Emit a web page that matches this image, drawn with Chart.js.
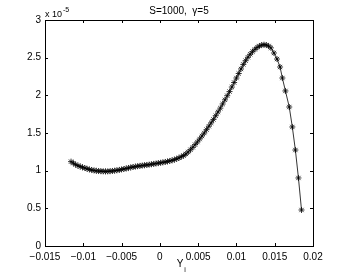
<!DOCTYPE html>
<html>
<head>
<meta charset="utf-8">
<script src="https://cdn.jsdelivr.net/npm/chart.js@4"></script>
<style>
  html, body { margin: 0; padding: 0; background: #fff; }
  #wrap { width: 346px; height: 277px; }
</style>
</head>
<body>
<div id="wrap"><canvas id="myChart" width="346" height="277"></canvas></div>
<script>
// values, y in units of 1e-5
var yiValues = [
  -0.0116, -0.0113, -0.0110, -0.0107, -0.0104, -0.0101, -0.0098, -0.0095, -0.0092, -0.0089,
  -0.0086, -0.0083, -0.0080, -0.0077, -0.0074, -0.0071, -0.0068, -0.0065, -0.0062, -0.0059,
  -0.0056, -0.0053, -0.0050, -0.0047, -0.0044, -0.0041, -0.0038, -0.0035, -0.0032, -0.0029,
  -0.0026, -0.0023, -0.0020, -0.0017, -0.0014, -0.0011, -0.0008, -0.0005, -0.0002, 0.0001,
  0.0004, 0.0007, 0.0010, 0.0013, 0.0016, 0.0019, 0.0022, 0.0025, 0.0028, 0.0031,
  0.0034, 0.0037, 0.0040, 0.0043, 0.0046, 0.0049, 0.0052, 0.0055, 0.0058, 0.0061,
  0.0064, 0.0067, 0.0070, 0.0073, 0.0076, 0.0079, 0.0082, 0.0085, 0.0088, 0.0091,
  0.0094, 0.0097, 0.0100, 0.0103, 0.0106, 0.0109, 0.0112, 0.0115, 0.0118, 0.0121,
  0.0124, 0.0127, 0.0130, 0.0133, 0.0136, 0.0139, 0.0142, 0.0145, 0.0149, 0.0153,
  0.0157, 0.0160, 0.0164, 0.0169, 0.0173, 0.0177, 0.0181, 0.0185
];
var curveValues = [
  1.120, 1.100, 1.080, 1.066, 1.055, 1.045, 1.035, 1.025, 1.016, 1.009,
  1.003, 0.998, 0.995, 0.993, 0.991, 0.990, 0.991, 0.993, 0.996, 1.000,
  1.005, 1.010, 1.016, 1.022, 1.029, 1.036, 1.043, 1.049, 1.054, 1.059,
  1.064, 1.068, 1.072, 1.076, 1.080, 1.085, 1.090, 1.095, 1.100, 1.105,
  1.110, 1.116, 1.122, 1.129, 1.137, 1.146, 1.157, 1.170, 1.185, 1.200,
  1.222, 1.248, 1.278, 1.310, 1.345, 1.380, 1.420, 1.460, 1.500, 1.545,
  1.590, 1.635, 1.680, 1.730, 1.780, 1.830, 1.885, 1.940, 1.995, 2.050,
  2.110, 2.170, 2.230, 2.290, 2.350, 2.410, 2.460, 2.505, 2.545, 2.580,
  2.610, 2.635, 2.655, 2.667, 2.672, 2.668, 2.655, 2.630, 2.562, 2.482,
  2.376, 2.230, 2.058, 1.845, 1.580, 1.274, 0.903, 0.478
];
var xTicks = [-0.015, -0.01, -0.005, 0, 0.005, 0.01, 0.015, 0.02];
var yTicks = [0, 0.5, 1, 1.5, 2, 2.5, 3];
var titleText = "S=1000,  \u03b3=5";

var points = [];
for (var i = 0; i < yiValues.length; i++) {
  points.push({ x: yiValues[i], y: curveValues[i] });
}

var font = "Liberation Sans";

// inward ticks on all four sides, box, and the MATLAB style texts
var matlabAxes = {
  id: "matlabAxes",
  afterDraw: function (chart) {
    var ctx = chart.ctx;
    var a = chart.chartArea;
    var xs = chart.scales.x;
    var ys = chart.scales.y;
    ctx.save();
    ctx.strokeStyle = "#000";
    ctx.lineWidth = 1;
    ctx.beginPath();
    xTicks.forEach(function (v) {
      var px = Math.round(xs.getPixelForValue(v)) + 0.5;
      ctx.moveTo(px, a.bottom); ctx.lineTo(px, a.bottom - 3);
      ctx.moveTo(px, a.top); ctx.lineTo(px, a.top + 3);
    });
    yTicks.forEach(function (v) {
      var py = Math.round(ys.getPixelForValue(v)) + 0.5;
      ctx.moveTo(a.left, py); ctx.lineTo(a.left + 3, py);
      ctx.moveTo(a.right, py); ctx.lineTo(a.right - 3, py);
    });
    ctx.stroke();
    ctx.strokeRect(Math.round(a.left) + 0.5, Math.round(a.top) + 0.5,
      Math.round(a.right - a.left), Math.round(a.bottom - a.top));

    ctx.fillStyle = "#000";
    ctx.textBaseline = "alphabetic";
    ctx.textAlign = "center";
    ctx.font = "10px '" + font + "'";
    ctx.fillText(titleText, (a.left + a.right) / 2, 14);

    ctx.textAlign = "left";
    ctx.font = "9px '" + font + "'";
    ctx.fillText("x 10", a.left, 17);
    ctx.font = "7px '" + font + "'";
    ctx.fillText("-5", a.left + 18, 12);

    ctx.textAlign = "center";
    ctx.font = "10px '" + font + "'";
    ctx.fillText("Y", 180, 267);
    ctx.font = "7px '" + font + "'";
    ctx.fillText("i", 185, 272);
    ctx.restore();
  }
};

var ctx = document.getElementById("myChart").getContext("2d");
var myChart = new Chart(ctx, {
  type: "line",
  data: {
    datasets: [
      {
        label: "curve",
        data: points,
        borderColor: "#000",
        borderWidth: 0.8,
        pointStyle: "star",
        pointRadius: 3,
        pointBorderWidth: 0.8,
        pointBorderColor: "#000",
        pointBackgroundColor: "#000",
        tension: 0,
        fill: false,
      },
    ],
  },
  options: {
    responsive: false,
    animation: false,
    layout: { padding: { top: 20, right: 33, left: 0, bottom: 0 } },
    plugins: {
      legend: { display: false },
      tooltip: { enabled: false },
    },
    scales: {
      x: {
        type: "linear",
        min: -0.015,
        max: 0.02,
        afterBuildTicks: function (scale) {
          scale.ticks = xTicks.map(function (v) { return { value: v }; });
        },
        afterFit: function (scale) { scale.height = 31; },
        grid: { display: false, drawTicks: false },
        border: { display: false },
        ticks: {
          color: "#000",
          padding: 5,
          maxRotation: 0,
          font: { family: font, size: 10 },
          callback: function (v) { return String(Number(v.toFixed(3))).replace("-", "\u2212"); },
        },
      },
      y: {
        type: "linear",
        min: 0,
        max: 3,
        afterBuildTicks: function (scale) {
          scale.ticks = yTicks.map(function (v) { return { value: v }; });
        },
        afterFit: function (scale) { scale.width = 45; },
        grid: { display: false, drawTicks: false },
        border: { display: false },
        ticks: {
          color: "#000",
          padding: 4,
          font: { family: font, size: 10 },
          callback: function (v) { return String(v); },
        },
      },
    },
  },
  plugins: [matlabAxes],
});
</script>
</body>
</html>
